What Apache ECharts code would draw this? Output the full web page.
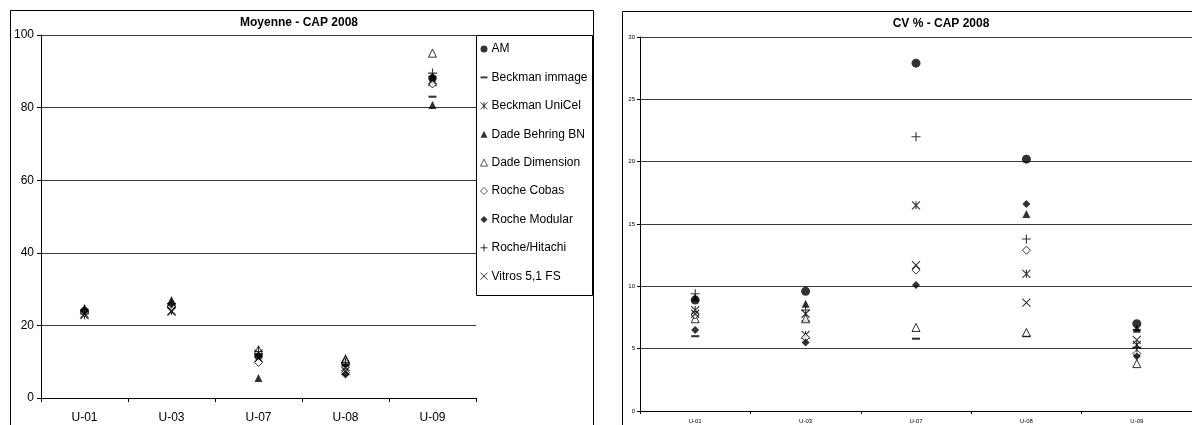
<!DOCTYPE html>
<html>
<head>
<meta charset="utf-8">
<script src="https://cdn.jsdelivr.net/npm/echarts@6/dist/echarts.min.js"></script>
<style>
  html, body { margin: 0; padding: 0; background: #fff; }
  #chart { width: 1192px; height: 425px; }
</style>
</head>
<body>
<div id="chart"></div>
<script>
// Categories (samples)
const categories = ['U-01', 'U-03', 'U-07', 'U-08', 'U-09'];

// Method names
const methods = ['AM', 'Beckman immage', 'Beckman UniCel', 'Dade Behring BN', 'Dade Dimension',
                 'Roche Cobas', 'Roche Modular', 'Roche/Hitachi', 'Vitros 5,1 FS'];

// Mean values (Moyenne)
const moyAM             = [24.0, 25.5, 11.5,  9.5, 88.0];
const moyBeckmanImmage  = [23.5, 25.0, 12.0,  9.0, 83.0];
const moyBeckmanUniCel  = [22.8, 24.0, 12.3,  8.5, 87.0];
const moyDadeBehringBN  = [24.8, 27.0,  5.5, 11.0, 80.7];
const moyDadeDimension  = [24.2, 26.2, 13.3, 10.5, 95.0];
const moyRocheCobas     = [23.6, 25.2,  9.8,  7.0, 86.5];
const moyRocheModular   = [23.8, 25.8, 11.8,  6.5, 88.5];
const moyRocheHitachi   = [24.3, 26.0, 12.8,  9.8, 89.5];
const moyVitros         = [23.2, 23.8, 11.0,  7.5, 87.5];

// Coefficient of variation (CV %)
const cvAM              = [ 8.9,  9.6, 27.9, 20.2, 7.0];
const cvBeckmanImmage   = [ 6.0,  7.2,  5.8,  6.0, 6.5];
const cvBeckmanUniCel   = [ 8.1,  6.1, 16.5, 11.0, 5.3];
const cvDadeBehringBN   = [ 9.1,  8.6, null, 15.8, 6.6];
const cvDadeDimension   = [ 7.4,  7.4,  6.7,  6.3, 3.8];
const cvRocheCobas      = [ 7.7,  5.9, 11.3, 12.9, 4.6];
const cvRocheModular    = [ 6.5,  5.5, 10.1, 16.6, 4.4];
const cvRocheHitachi    = [ 9.4,  8.1, 22.0, 13.8, 5.1];
const cvVitros          = [ 7.8,  7.8, 11.7,  8.7, 5.7];

// Axis ticks
const moyTicks = { min: 0, max: 100, interval: 20 };
const cvTicks  = { min: 0, max: 30, interval: 5 };

const moyData = [moyAM, moyBeckmanImmage, moyBeckmanUniCel, moyDadeBehringBN, moyDadeDimension,
                 moyRocheCobas, moyRocheModular, moyRocheHitachi, moyVitros];
const cvData  = [cvAM, cvBeckmanImmage, cvBeckmanUniCel, cvDadeBehringBN, cvDadeDimension,
                 cvRocheCobas, cvRocheModular, cvRocheHitachi, cvVitros];

// Marker styles per method
const FONT = 'Liberation Sans, Arial, sans-serif';
const solid = { color: '#000', borderColor: '#000', borderWidth: 0 };
const hollow = { color: '#fff', borderColor: '#000', borderWidth: 1 };
const stroke = { color: 'rgba(0,0,0,0)', borderColor: '#000', borderWidth: 1.1 };
const DASH = 'path://M0,0L10,0L10,2.6L0,2.6Z';
const markers = [
  { symbol: 'circle', size: 8, style: solid },
  { symbol: DASH, size: 8, style: solid },
  { symbol: 'path://M0,0L10,10M10,0L0,10M5,0L5,10', size: 8, style: stroke },
  { symbol: 'triangle', size: 8, style: solid },
  { symbol: 'triangle', size: 8, style: hollow },
  { symbol: 'diamond', size: 8, style: hollow },
  { symbol: 'diamond', size: 8, style: solid },
  { symbol: 'path://M5,0L5,10M0,5L10,5', size: 9, style: stroke },
  { symbol: 'path://M0,0L10,10M10,0L0,10', size: 8, style: stroke }
];

const series = [];
methods.forEach((name, i) => {
  const m = markers[i];
  [moyData[i], cvData[i]].forEach((values, k) => {
    series.push({
      name, type: 'scatter', xAxisIndex: k, yAxisIndex: k,
      symbol: m.symbol, symbolSize: k === 1 && i === 0 ? 9 : m.size,
      symbolKeepAspect: true, itemStyle: m.style,
      data: values, z: 10 + i
    });
  });
});

// Legend entries with compact icons
const legendIcons = [
  { icon: 'circle', style: solid },
  { icon: DASH, style: solid },
  { icon: 'path://M0,0L10,10M10,0L0,10M5,0L5,10', style: { color: 'rgba(0,0,0,0)', borderColor: '#000', borderWidth: 1 } },
  { icon: 'triangle', style: solid },
  { icon: 'triangle', style: { color: '#fff', borderColor: '#000', borderWidth: 0.8 } },
  { icon: 'diamond', style: { color: '#fff', borderColor: '#000', borderWidth: 0.8 } },
  { icon: 'diamond', style: solid },
  { icon: 'path://M5,0L5,10M0,5L10,5', style: { color: 'rgba(0,0,0,0)', borderColor: '#000', borderWidth: 1 } },
  { icon: 'path://M0,0L10,10M10,0L0,10', style: { color: 'rgba(0,0,0,0)', borderColor: '#000', borderWidth: 1 } }
];
const legendData = methods.map((name, i) => ({
  name, icon: legendIcons[i].icon, itemStyle: legendIcons[i].style
}));

const gridLine = { show: true, lineStyle: { color: '#3a3a3a', width: 1 } };
const axisLine = { show: true, lineStyle: { color: '#000', width: 1 } };

const chart = echarts.init(document.getElementById('chart'), null, { renderer: 'canvas' });
chart.setOption({
  animation: false,
  backgroundColor: '#fff',
  title: [
    { text: 'Moyenne - CAP 2008', left: 294, top: 12, textAlign: 'center',
      textStyle: { fontFamily: FONT, fontSize: 12, fontWeight: 'bold', color: '#000' } },
    { text: 'CV % - CAP 2008', left: 936, top: 13, textAlign: 'center',
      textStyle: { fontFamily: FONT, fontSize: 12, fontWeight: 'bold', color: '#000' } }
  ],
  legend: {
    orient: 'vertical', left: 480, top: 43, padding: 0,
    itemWidth: 7, itemHeight: 7, itemGap: 16.4,
    symbolKeepAspect: true,
    textStyle: { fontFamily: FONT, fontSize: 12, color: '#000', padding: [0, 0, 0, -1] },
    data: legendData
  },
  grid: [
    { left: 41, top: 35, width: 435, height: 363, show: false },
    { left: 640, top: 37, width: 557, height: 374, show: false }
  ],
  xAxis: [
    { type: 'category', gridIndex: 0, data: categories, boundaryGap: true,
      axisLine, axisTick: { show: true, length: 4, alignWithLabel: false, lineStyle: { color: '#000' } },
      axisLabel: { fontFamily: FONT, fontSize: 12, color: '#000', margin: 14 },
      splitLine: { show: false } },
    { type: 'category', gridIndex: 1, data: categories, boundaryGap: true,
      axisLine, axisTick: { show: true, length: 3, alignWithLabel: false, lineStyle: { color: '#000' } },
      axisLabel: { fontFamily: FONT, fontSize: 6, color: '#000', margin: 7 },
      splitLine: { show: false } }
  ],
  yAxis: [
    { type: 'value', gridIndex: 0, min: moyTicks.min, max: moyTicks.max, interval: moyTicks.interval,
      axisLine, axisTick: { show: true, length: 4, lineStyle: { color: '#000' } },
      axisLabel: { fontFamily: FONT, fontSize: 12, color: '#000', margin: 7 },
      splitLine: gridLine },
    { type: 'value', gridIndex: 1, min: cvTicks.min, max: cvTicks.max, interval: cvTicks.interval,
      axisLine, axisTick: { show: true, length: 3, lineStyle: { color: '#000' } },
      axisLabel: { fontFamily: FONT, fontSize: 6, color: '#000', margin: 5 },
      splitLine: gridLine }
  ],
  graphic: [
    // chart frames
    { type: 'rect', shape: { x: 10.5, y: 10.5, width: 583, height: 440 },
      style: { fill: 'none', stroke: '#000', lineWidth: 1 }, silent: true, z: 0 },
    { type: 'rect', shape: { x: 622.5, y: 11.5, width: 600, height: 440 },
      style: { fill: 'none', stroke: '#000', lineWidth: 1 }, silent: true, z: 0 },
    // legend box
    { type: 'rect', shape: { x: 476.5, y: 35.5, width: 116, height: 260 },
      style: { fill: '#fff', stroke: '#000', lineWidth: 1 }, silent: true, z: 1 }
  ],
  series
});
</script>
</body>
</html>
